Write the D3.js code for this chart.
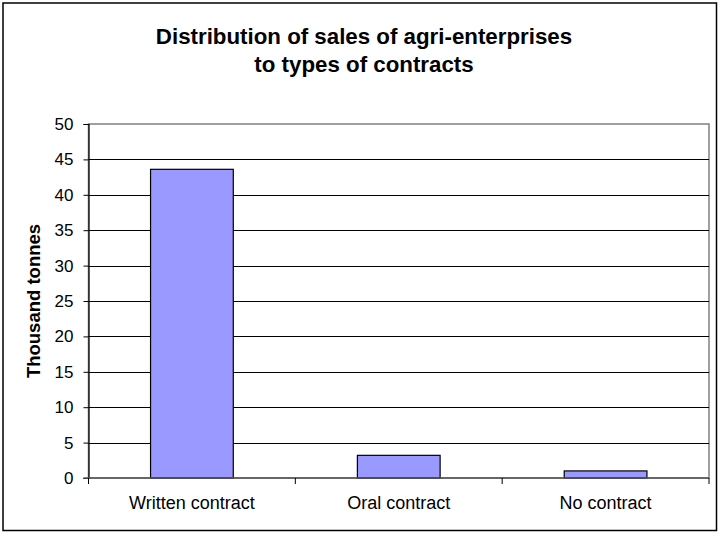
<!DOCTYPE html>
<html>
<head>
<meta charset="utf-8">
<script src="https://cdn.jsdelivr.net/npm/d3@7"></script>
<style>
  html, body { margin: 0; padding: 0; background: #fff; }
  svg { display: block; font-family: "Liberation Sans", Arial, sans-serif; }
</style>
</head>
<body>
<svg id="chart" width="720" height="534"></svg>
<script>
// Sales volumes by contract type (thousand tonnes)
const categories = ["Written contract", "Oral contract", "No contract"];
const salesValues = [43.6, 3.2, 1.0];
const yTickValues = [0, 5, 10, 15, 20, 25, 30, 35, 40, 45, 50];
const titleLines = ["Distribution of sales of agri-enterprises", "to types of contracts"];
const yAxisTitle = "Thousand tonnes";

const svg = d3.select("#chart");
const W = 720, H = 534;
const plot = { left: 88.5, right: 709, top: 124, bottom: 478 };

// Outer chart frame
svg.append("rect")
  .attr("x", 3).attr("y", 3)
  .attr("width", W - 6.5).attr("height", H - 6.5)
  .attr("fill", "#fff").attr("stroke", "#000").attr("stroke-width", 1.5);

// Title
svg.append("g").selectAll("text").data(titleLines).join("text")
  .attr("x", 364).attr("y", (d, i) => 44 + i * 28)
  .attr("text-anchor", "middle")
  .attr("font-size", 22.3).attr("font-weight", "bold")
  .attr("fill", "#000")
  .text(d => d);

const x = d3.scaleBand().domain(categories).range([plot.left, plot.right]).paddingInner(0.6).paddingOuter(0.3);
const xOuter = d3.scaleBand().domain(categories).range([plot.left, plot.right]);
const y = d3.scaleLinear().domain([0, 50]).range([plot.bottom, plot.top]);

// Plot area border (top and right in grey)
svg.append("rect")
  .attr("x", plot.left).attr("y", plot.top)
  .attr("width", plot.right - plot.left).attr("height", plot.bottom - plot.top)
  .attr("fill", "#fff").attr("stroke", "#808080").attr("stroke-width", 1.5);

// Horizontal gridlines
svg.append("g").selectAll("line").data(yTickValues.filter(v => v > 0 && v < 50)).join("line")
  .attr("x1", plot.left).attr("x2", plot.right)
  .attr("y1", d => Math.round(y(d)) + 0.5).attr("y2", d => Math.round(y(d)) + 0.5)
  .attr("stroke", "#000").attr("stroke-width", 1);

// Bars
svg.append("g").selectAll("rect").data(salesValues).join("rect")
  .attr("x", (d, i) => x(categories[i]))
  .attr("y", d => y(d))
  .attr("width", x.bandwidth())
  .attr("height", d => plot.bottom - y(d))
  .attr("fill", "#9999ff")
  .attr("stroke", "#000").attr("stroke-width", 1.2);

// Y axis
const yAxis = d3.axisLeft(y).tickValues(yTickValues).tickSize(5).tickPadding(10);
const gy = svg.append("g").attr("transform", `translate(${plot.left},0)`).call(yAxis);
gy.select(".domain").attr("stroke", "#000").attr("stroke-width", 1.2);
gy.selectAll(".tick line").attr("stroke", "#000");
gy.selectAll(".tick text").attr("font-size", 17).attr("fill", "#000")
  .attr("font-family", "Liberation Sans, Arial, sans-serif");

// X axis with tick marks between categories
const gx = svg.append("g").attr("transform", `translate(0,${plot.bottom})`);
gx.append("line")
  .attr("x1", plot.left - 5).attr("x2", plot.right)
  .attr("y1", 0).attr("y2", 0)
  .attr("stroke", "#555").attr("stroke-width", 1.5);
const boundaries = categories.map(c => xOuter(c)).concat([plot.right]);
gx.selectAll("line.tk").data(boundaries).join("line").attr("class", "tk")
  .attr("x1", d => d).attr("x2", d => d)
  .attr("y1", 0).attr("y2", 6)
  .attr("stroke", "#000").attr("stroke-width", 1);
gx.selectAll("text").data(categories).join("text")
  .attr("x", d => xOuter(d) + xOuter.bandwidth() / 2)
  .attr("y", 31)
  .attr("text-anchor", "middle")
  .attr("font-size", 18).attr("fill", "#000")
  .text(d => d);

// Y axis title
svg.append("text")
  .attr("transform", `translate(40,${(plot.top + plot.bottom) / 2}) rotate(-90)`)
  .attr("text-anchor", "middle")
  .attr("font-size", 18.5).attr("font-weight", "bold")
  .attr("fill", "#000")
  .text(yAxisTitle);
</script>
</body>
</html>
